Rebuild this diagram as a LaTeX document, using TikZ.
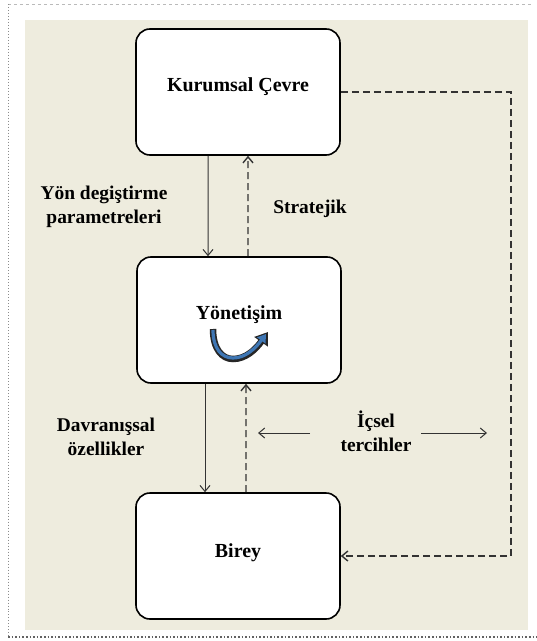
\documentclass[tikz,border=0pt]{standalone}
\usepackage{fontspec}
\setmainfont{Liberation Serif}
\usepackage{xcolor}
\usetikzlibrary{arrows.meta}
\definecolor{GovBack}{HTML}{EEECDE}
\definecolor{GovFrame}{HTML}{8C8C8C}
\definecolor{GovLine}{HTML}{333333}
\definecolor{GovBlue}{HTML}{3E76B4}

\begin{document}
\begin{tikzpicture}[x=1bp,y=-1bp,
  govbox/.style={draw,line width=1.6bp,rounded corners=14bp,fill=white,
    minimum width=204bp,minimum height=126bp,inner sep=0pt,text depth=15bp,
    font=\fontsize{20}{24}\selectfont\bfseries},
  govtext/.style={font=\fontsize{19.5}{24}\selectfont\bfseries,align=center},
  flow/.style={GovLine,line width=1bp,-{Straight Barb[length=6bp,width=10bp]}},
  flowdash/.style={flow,line width=1.4bp,dash pattern=on 7bp off 4bp}]
\path[use as bounding box] (0,0) rectangle (537,641);
\fill[GovBack] (25,20) rectangle (528,630);
\draw[GovFrame!60,dashed] (8,4) -- (533,4);
\draw[GovFrame,dotted,line width=1bp] (8,4) -- (8,637);
\draw[GovFrame!70!black,dotted,line width=1.6bp] (8,637) -- (537,637);
% boxes
\node[govbox] (kurumsal) at (238,92) {Kurumsal Çevre};
\node[govbox] (yonetisim) at (239,320) {Yönetişim};
\node[govbox,text depth=11bp] (birey) at (238,556) {Birey};
% turning arrow
\draw[black!85,line width=6.5bp,-{Triangle[length=12bp,width=16bp]}]
  (213,329) .. controls (213,349) and (222,359) .. (233,359)
  .. controls (246,359) and (256,349) .. (268,332);
\draw[GovBlue,line width=3.2bp,-{Triangle[length=8bp,width=10bp]}]
  (213,330) .. controls (213,349) and (222,358) .. (233,358)
  .. controls (245,358) and (255,349) .. (266,334);
% labels
\node[govtext] (yon) at (104,207) {Yön degiştirme\\parametreleri};
\node[govtext] (stratejik) at (310,209) {Stratejik};
\node[govtext] (davranis) at (106,437) {Davranışsal\\özellikler};
\node[govtext] (icsel) at (376,431) {İçsel\\tercihler};
% connectors
\draw[flow] ([xshift=-30bp]kurumsal.south) -- ([xshift=-31bp]yonetisim.north);
\draw[flowdash] ([xshift=9bp]yonetisim.north) -- ([xshift=10bp]kurumsal.south);
\draw[flow] ([xshift=-34bp]yonetisim.south) -- ([xshift=-33bp]birey.north);
\draw[flowdash] ([xshift=8bp]birey.north) -- ([xshift=7bp]yonetisim.south);
\coordinate (rim) at (511,300);
\draw[flowdash] (kurumsal.east) -| (rim) |- (birey.east);
\coordinate (icselLa) at (310,433);
\coordinate (icselLb) at (258,433);
\coordinate (icselRa) at (421,433);
\coordinate (icselRb) at (487,433);
\draw[flow] (icselLa) -- (icselLb);
\draw[flow] (icselRa) -- (icselRb);
\end{tikzpicture}
\end{document}
